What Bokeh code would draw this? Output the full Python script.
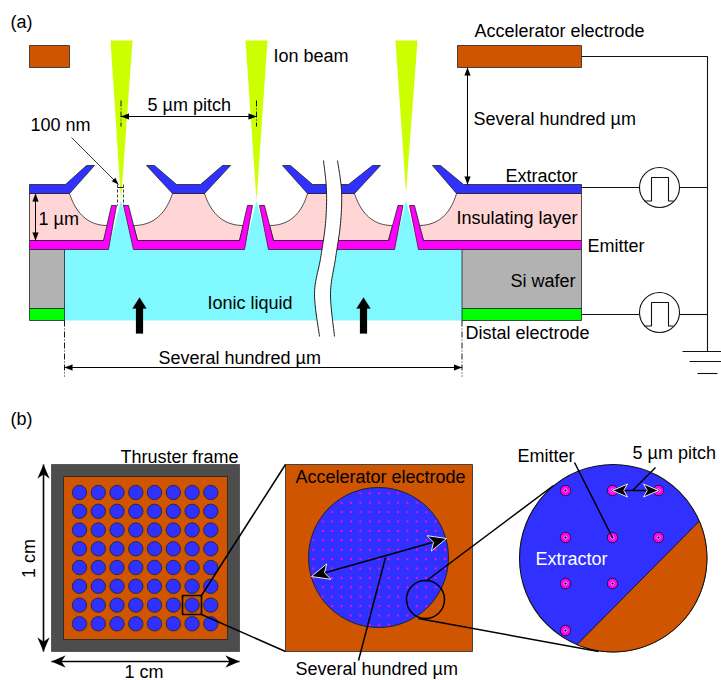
import numpy as np
from bokeh.plotting import figure
from bokeh.embed import file_html
from bokeh.resources import INLINE
from bokeh.core.properties import value

# ---------- colours ----------
BLUE = "#3030FF"; MAGENTA = "#FF00FF"; PINK = "#FFD5D5"; CYAN = "#80F8FF"
GRAY = "#B2B2B2"; GREEN = "#00FF00"; ORANGE = "#D05500"; FRAME = "#4D4D4D"; BEAM = "#CCFF00"
FONT = "Liberation Sans"; FS = "18px"

# ---------- panel (a) shapes ----------
beams = [[(110,40),(132,40),(120.5,200)], [(245,40),(267,40),(256,200)], [(395,40),(417,40),(405.5,192)]]
electrodes = [(29,45,69,67), (457,45,581,67)]
extractors = [
    [(29,184),(65,184),(86,165),(94,165),(69,193),(29,193)],
    [(146,165),(154,165),(176,184),(200,184),(222,165),(230,165),(204,193),(172,193)],
    [(282,165),(290,165),(312,184),(348,184),(372,165),(380,165),(354,193),(307,193)],
    [(432,165),(440,165),(463,184),(581,184),(581,193),(456,193)],
]
emitters = [
    [(29,240),(103,240),(111,205),(116,205),(108,249),(29,249)],
    [(123,205),(128,205),(137,240),(239,240),(247,205),(252,205),(244,249),(133,249)],
    [(259,205),(264,205),(273,240),(388,240),(397.5,205),(402.5,205),(394,249),(268,249)],
    [(409,205),(414,205),(423,240),(581,240),(581,249),(418,249)],
]
liquid = [(64,320),(64,249),(108,249),(120.5,200),(133,249),(244,249),(256,200),(268,249),
          (394,249),(405.5,200),(418,249),(461.5,249),(461.5,320)]
wafers = [(29,249,64,308), (461.5,249,581,308)]
distals = [(29,308,64,320), (461.5,308,581,320)]
break_left = [(323,160),(326,190),(325,223),(320,258),(314,293),(319,336)]
break_right = [(337,160),(341,190),(340,223),(335,258),(330,293),(334,336)]
up_arrows_x = [139, 363]
pulse_centres = [(659,187), (659,312)]
wires = [[(581,56),(707,56),(707,351)], [(581,187),(639,187)], [(679,187),(707,187)],
         [(581,314),(639,314)], [(679,314),(707,314)],
         [(682,351),(721,351)], [(689,361),(721,361)], [(697,373),(717,373)]]
labels_a = [("(a)",10,21),("Accelerator electrode",474,30),("Ion beam",273,55),("5 µm pitch",147,104),
            ("Several hundred µm",473,118),("100 nm",30,124),("Extractor",505,175),("1 µm",38,218),
            ("Insulating layer",456,217),("Emitter",587,245),("Si wafer",510,280),("Ionic liquid",207,302),
            ("Distal electrode",465,332),("Several hundred µm",158,357)]

# ---------- panel (b) shapes ----------
frame_rect = (51,464,239,651)
plate_rect = (63,476,227,639)
hole_x = [79.0,97.8,116.5,135.3,154.0,172.8,191.6,210.3]
hole_y = [492.0,510.8,529.5,548.3,567.0,585.8,604.6,623.3]
zoom_box = (182,595,201,614)
mid_rect = (285,464,472,651)
mid_circle = (378,557,70)
dot_x = [294.1,303.5,312.9,322.3,331.7,341.1,350.5,359.9,369.3,378.7,388.1,397.5,406.9,416.3,425.7,435.1,444.5,453.9]
dot_y = [492.8,502.2,511.6,521.0,530.4,539.8,549.2,558.6,568.0,577.4,586.8,596.2,605.6,615.0,624.4]
small_circle = (425,599,19)
big_circle = (612.7,557.7,93.7)
chord = [(698,521),(577,643)]
em_x = [565,612,658,565,612,658,565,612,565]
em_y = [490,490,490,537,537,537,583,583,630]
thick_lines = [[(201,595),(285,464)], [(201,614),(285,651)], [(425,581),(553,485)], [(418,618),(598,651)],
               [(385,557),(358,660)], [(574,462),(612,537)], [(655,467),(632,490)]]
labels_b = [("(b)",10,418),("Thruster frame",120,456),("Accelerator electrode",295,476),("Emitter",517,455),
            ("5 µm pitch",632,452),("Several hundred µm",295,668),("1 cm",124,671)]

p = figure(width=721, height=680, x_range=(0,721), y_range=(680,0), output_backend="svg",
           toolbar_location=None, x_axis_location=None, y_axis_location=None, min_border=0,
           outline_line_color=None, background_fill_color="white", border_fill_color="white")
p.grid.visible = False

def poly(pts, fill, line="#222222", lw=0.8):
    xs, ys = zip(*pts)
    p.patch(list(xs), list(ys), fill_color=fill, line_color=line, line_width=lw)

def rect(r, fill, line="#222222", lw=0.8):
    x0, y0, x1, y1 = r
    poly([(x0,y0),(x1,y0),(x1,y1),(x0,y1)], fill, line, lw)

def line(pts, color="black", lw=1.0, dash="solid"):
    xs, ys = zip(*pts)
    p.line(list(xs), list(ys), line_color=color, line_width=lw, line_dash=dash)

def quad(a, c, b, n=24):
    t = np.linspace(0, 1, n)[:, None]
    a, c, b = np.array(a, float), np.array(c, float), np.array(b, float)
    return [tuple(q) for q in (1-t)**2*a + 2*t*(1-t)*c + t**2*b]

def smooth(pts, n=12):
    P = np.array([pts[0]] + pts + [pts[-1]], float)
    out = []
    for i in range(1, len(P)-2):
        for t in np.linspace(0, 1, n, endpoint=False):
            out.append(tuple(0.5*((2*P[i]) + (-P[i-1]+P[i+1])*t + (2*P[i-1]-5*P[i]+4*P[i+1]-P[i+2])*t**2
                                  + (-P[i-1]+3*P[i]-3*P[i+1]+P[i+2])*t**3)))
    out.append(tuple(P[-2]))
    return out

def head(tip, frm, length, half, fill="black", edge=None, notch=0.0):
    tip, frm = np.array(tip, float), np.array(frm, float)
    d = (frm - tip) / np.hypot(*(frm - tip)); n = np.array([-d[1], d[0]])
    pts = [tip, tip + d*length + n*half, tip + d*length*(1-notch), tip + d*length - n*half]
    poly([tuple(q) for q in pts], fill, edge or fill, 0.9 if edge else 0.1)

def dbl(a, b, length=8, half=3, lw=1.0, fill="black", edge=None, notch=0.0):
    line([a, b], lw=lw)
    head(a, b, length, half, fill, edge, notch)
    head(b, a, length, half, fill, edge, notch)

def label(t, x, y, color="black", angle=0.0, align="left"):
    p.text([x], [y], text=[t], text_font=value(FONT), text_font_size=FS, text_color=color,
           text_baseline="middle", text_align=align, angle=angle)

# ---------- panel (a) ----------
for b in beams:
    poly(b, BEAM, None, 0)
for r in electrodes:
    rect(r, ORANGE)
poly(liquid, CYAN, None, 0)

# insulating layer with curved cavities
poly([(29,193),(69,193)] + quad((69,193),(79.5,225),(107,225)) + [(111,225),(103,240),(29,240)], PINK)
poly(quad((133,225),(161.5,225),(172,193)) + quad((204,193),(214.5,225),(243,225)) + [(239,240),(137,240)], PINK)
poly(quad((269,225),(297.5,225),(307,193)) + quad((354,193),(364.5,225),(392,225)) + [(388,240),(273,240)], PINK)
poly(quad((418,225),(446.5,225),(456,193)) + [(581,193),(581,240),(423,240)], PINK)
for e in emitters:
    poly(e, MAGENTA)
for e in extractors:
    poly(e, BLUE)
for r in wafers:
    rect(r, GRAY)
for r in distals:
    rect(r, GREEN)

# interruption of the drawing
bl, br = smooth(break_left), smooth(break_right)
poly(bl + br[::-1], "white", None, 0)
line(bl, "#222222", 1.0); line(br, "#222222", 1.0)

# flow arrows
for x in up_arrows_x:
    poly([(x,297),(x+7,308),(x+3.5,308),(x+3.5,333),(x-3.5,333),(x-3.5,308),(x-7,308)], "black", "black", 0.2)

# wires, ground, pulse generators
for w in wires:
    line(w, "#111111", 1.1)
for cx, cy in pulse_centres:
    p.circle([cx], [cy], radius=20, fill_color="white", line_color="#111111", line_width=1.1)
    line([(cx-15,cy+13.5),(cx-8,cy+13.5),(cx-8,cy-10),(cx+9,cy-10),(cx+9,cy+13.5),(cx+14,cy+13.5)], "#111111", 1.1)

# dimensions
for x in (120.5, 256):
    line([(x,100),(x,126)], "black", 0.9, "6 2 1 2")
dbl((120.5,116),(256,116))
dbl((467,67),(467,184))
dbl((35,193),(35,240))
for x in (64, 461.5):
    line([(x,320),(x,376)], "black", 0.9, "6 2 1 2")
dbl((64,367),(461.5,367))
line([(71,137),(118,184)], "#222222", 0.9)
head((118,184),(71,137),7,2.5)
line([(117,187),(123,187)], "black", 0.9)
for x in (117, 123):
    line([(x,184),(x,205)], "#222222", 0.9, "3 2")

# ---------- panel (b) ----------
rect(frame_rect, FRAME, "#444444", 0.8)
rect(plate_rect, ORANGE, "#222222", 0.8)
hx = [x for _ in hole_y for x in hole_x]
hy = [y for y in hole_y for _ in hole_x]
p.circle(hx, hy, radius=7.2, fill_color=BLUE, line_color="#222222", line_width=0.8)
rect(zoom_box, None, "black", 1.6)
dbl((43,464),(43,651), 14, 6, 1.6, notch=0.3)
dbl((51,661),(239,661), 14, 6, 1.6, notch=0.3)

rect(mid_rect, ORANGE, "#444444", 1.0)
cx, cy, r = mid_circle
p.circle([cx], [cy], radius=r, fill_color=BLUE, line_color="#222222", line_width=1.0)
dx = [x for y in dot_y for x in dot_x if np.hypot(x-cx, y-cy) < r-1.5]
dy = [y for y in dot_y for x in dot_x if np.hypot(x-cx, y-cy) < r-1.5]
p.scatter(dx, dy, size=2.0, marker="square", fill_color=MAGENTA, line_color=None)

cx, cy, r = big_circle
p.circle([cx], [cy], radius=r, fill_color=BLUE, line_color="#111111", line_width=1.1)
a0 = np.arctan2(chord[1][1]-cy, chord[1][0]-cx)
a1 = np.arctan2(chord[0][1]-cy, chord[0][0]-cx)
if a1 > a0:
    a1 -= 2*np.pi
ang = np.linspace(a0, a1, 80)
poly(list(zip(cx + r*np.cos(ang), cy + r*np.sin(ang))), ORANGE, "#111111", 0.9)
p.scatter(em_x, em_y, size=10.5, fill_color=MAGENTA, line_color="#111111", line_width=0.9)
p.scatter(em_x, em_y, size=3, fill_color="black", line_color="white", line_width=0.7)

for l in thick_lines:
    line(l, "black", 1.5)
cx, cy, r = small_circle
p.circle([cx], [cy], radius=r, fill_color=None, line_color="black", line_width=1.5)
dbl((311,576),(446,538), 18, 8, 1.8, "black", "white", 0.25)
dbl((612,490),(658,490), 15, 6.5, 1.6, "black", "white", 0.25)

for t, x, y in labels_a + labels_b:
    label(t, x, y)
label("Extractor", 535, 558, "white")
label("1 cm", 28, 558, angle=np.pi/2, align="center")

open("out.html", "w").write(file_html(p, INLINE))
